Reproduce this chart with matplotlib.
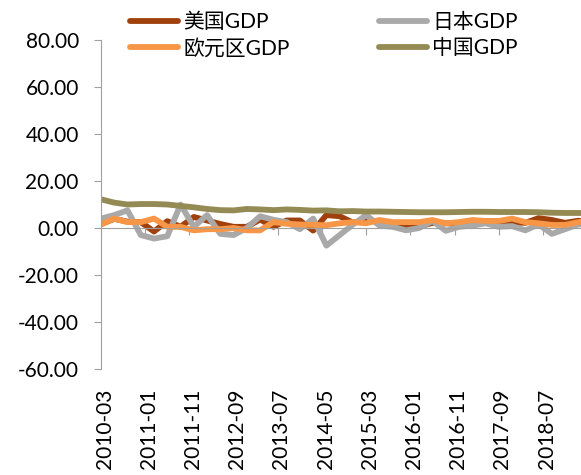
import matplotlib
matplotlib.use("Agg")
import numpy as np
from matplotlib import pyplot as plt

plt.rcParams['font.family'] = ['Lato', 'Noto Sans CJK SC', 'DejaVu Sans']

# quarterly observations, 2010Q1 .. 2019Q2
quarters = ["%d-%02d" % (y, m) for y in range(2010, 2020) for m in (3, 6, 9, 12)][:38]

us_gdp = [1.7, 3.9, 2.7, 2.5, -1.5, 2.9, 0.5, 4.7, 3.2, 1.7, 0.5, 0.5,
          3.6, 0.5, 3.2, 3.2, -1.1, 5.5, 5.0, 2.3, 3.2, 2.7, 1.6, 0.5,
          0.6, 2.2, 2.0, 1.8, 1.8, 3.0, 2.8, 2.3, 2.2, 4.2, 3.4, 2.2,
          3.1, 2.0]
japan_gdp = [4.0, 5.5, 7.5, -3.0, -4.5, -3.5, 10.0, 0.5, 5.5, -2.5, -3.0, 0.0,
             5.0, 3.5, 2.5, -0.5, 4.0, -7.5, -3.0, 1.5, 5.5, 1.0, 0.5, -1.0,
             0.0, 3.0, -1.2, 0.5, 1.0, 2.0, 0.5, 0.8, -1.0, 1.5, -2.5, -0.5,
             1.5, 1.5]
euro_gdp = [1.5, 4.0, 2.5, 2.5, 4.0, 0.5, 0.5, -1.0, -0.5, -0.5, 0.0, -1.0,
            -1.0, 2.5, 1.8, 1.5, 1.3, 1.2, 2.0, 2.5, 2.0, 3.4, 2.5, 2.5,
            2.5, 3.4, 2.0, 2.5, 3.4, 3.0, 3.0, 4.0, 2.5, 2.0, 1.3, 1.3,
            2.5, 3.0]
china_gdp = [12.2, 10.8, 10.0, 10.2, 10.2, 10.0, 9.4, 8.8, 8.1, 7.6, 7.5, 8.1,
             7.9, 7.6, 7.9, 7.7, 7.4, 7.5, 7.1, 7.2, 7.0, 7.0, 6.9, 6.8,
             6.7, 6.7, 6.7, 6.8, 6.9, 6.9, 6.8, 6.8, 6.8, 6.7, 6.5, 6.4,
             6.4, 6.2]

tick_labels = ["2010-03", "2011-01", "2011-11", "2012-09", "2013-07", "2014-05",
               "2015-03", "2016-01", "2016-11", "2017-09", "2018-07", "2019-05"]


def month_index(s):
    y, m = s.split("-")
    return (int(y) - 2010) * 12 + int(m) - 3


x = np.array([month_index(q) for q in quarters])
xt = [month_index(t) for t in tick_labels]

axis_grey = "#a0a0a0"

fig = plt.figure(figsize=(5.81, 4.75), dpi=100)
# plot area runs past the right edge of the figure
ax = fig.add_axes([101 / 581, 106 / 475, (640 - 101) / 581, 329 / 475])

l_us, = ax.plot(x, us_gdp, color="#a0410d", lw=4.2, label="美国GDP", solid_capstyle="round")
l_jp, = ax.plot(x, japan_gdp, color="#a9a9a9", lw=4.2, label="日本GDP", solid_capstyle="round")
l_eu, = ax.plot(x, euro_gdp, color="#f79646", lw=4.2, label="欧元区GDP", solid_capstyle="round")
l_cn, = ax.plot(x, china_gdp, color="#948a54", lw=4.2, label="中国GDP", solid_capstyle="round")

ax.set_ylim(-60, 80)
ax.set_yticks(np.arange(-60, 81, 20))
ax.set_yticklabels(["%.2f" % v for v in np.arange(-60, 81, 20)])
ax.set_xlim(0, (640 - 101) / 4.42)

for s in ("top", "right"):
    ax.spines[s].set_visible(False)
ax.spines["left"].set_color(axis_grey)
ax.spines["bottom"].set_color(axis_grey)
ax.spines["bottom"].set_position(("data", 0))

ax.set_xticks(xt)
ax.tick_params(axis="x", labelbottom=False, direction="out", length=5, color=axis_grey)
ax.tick_params(axis="y", direction="out", length=5, color=axis_grey, labelsize=15, pad=11)

# date labels sit at the bottom of the plot area
sec = ax.secondary_xaxis("bottom")
sec.set_xticks([t + 0.8 for t in xt])
sec.set_xticklabels(tick_labels)
sec.spines["bottom"].set_visible(False)
sec.tick_params(axis="x", length=0, labelsize=15, labelrotation=90, pad=14)

fig.legend([l_us, l_eu, l_jp, l_cn], ["美国GDP", "欧元区GDP", "日本GDP", "中国GDP"],
           ncol=2, loc="upper left", bbox_to_anchor=(130 / 581, 1 - 12 / 475),
           frameon=False, fontsize=15, handlelength=2.3, handletextpad=0.25,
           columnspacing=4.3, labelspacing=0.3, borderaxespad=0, borderpad=0)

fig.savefig("out.png", dpi=100)
